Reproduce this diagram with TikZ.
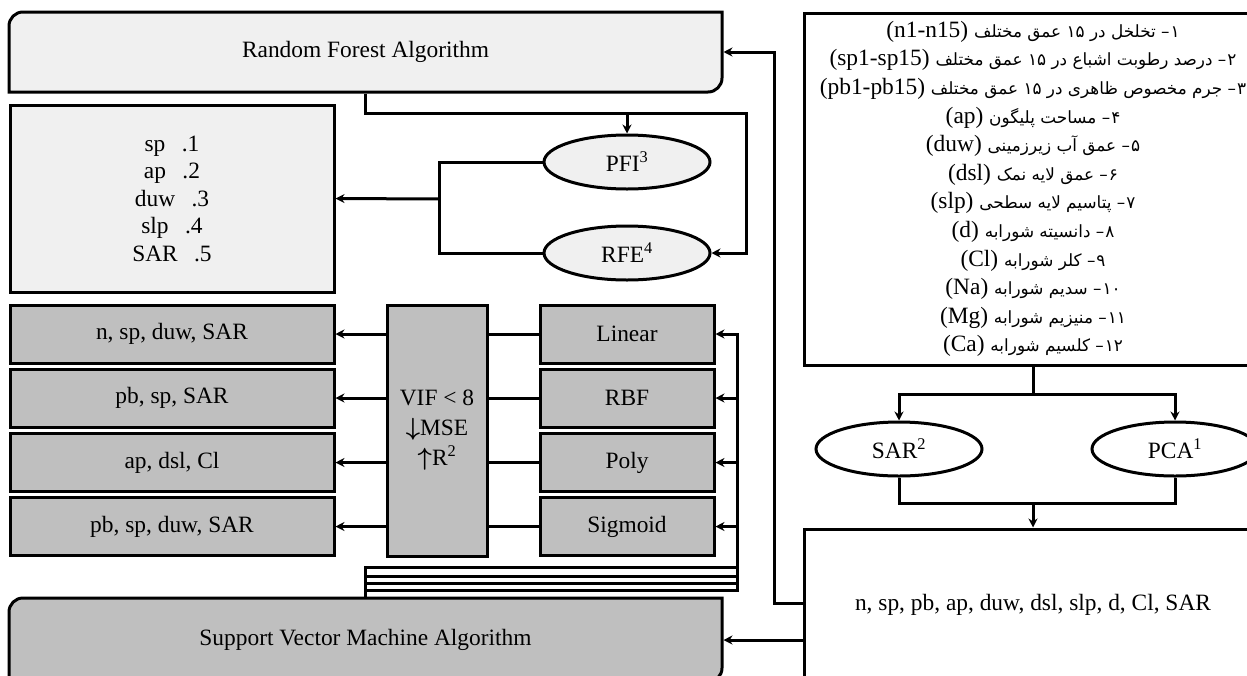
\documentclass[tikz,border=0pt]{standalone}
\usepackage{fontspec}
\setmainfont{Liberation Serif}
\newfontfamily\fafont[Script=Arabic,Scale=0.72]{DejaVu Sans}
\TeXXeTstate=1
\usetikzlibrary{arrows.meta,shapes.geometric}

\definecolor{paleGray}{HTML}{F0F0F0}
\definecolor{midGray}{HTML}{BFBFBF}

\begin{document}
\begin{tikzpicture}[x=1pt,y=-1pt,
    every node/.style={font=\fontsize{23.4}{27.5}\selectfont, inner sep=0pt},
    box/.style={draw, line width=3pt, rectangle},
    oval/.style={draw, line width=3pt, ellipse, minimum width=166pt, minimum height=54pt},
    algo/.style={minimum width=713pt, minimum height=80pt, outer sep=1.5pt},
    link/.style={line width=3pt},
    arr/.style={link, -{Stealth[length=9pt,width=9pt]}},
  ]
  \useasboundingbox (0,0) rectangle (1247,675);
  \clip (0,0) rectangle (1247,675);

  % Algorithm frames (rounded top left and bottom right)
  \draw[line width=3pt, fill=paleGray] (9,52) [rounded corners=14pt] -- (9,12) [sharp corners] -- (722,12)
    [rounded corners=14pt] -- (722,92) [sharp corners] -- (9,92) -- cycle;
  \draw[line width=3pt, fill=midGray] (9,640) [rounded corners=14pt] -- (9,598) [sharp corners] -- (722,598)
    [rounded corners=14pt] -- (722,682) [sharp corners] -- (9,682) -- cycle;
  \node[algo] (rf)  at (365.5,52)  {Random Forest Algorithm};
  \node[algo] (svm) at (365.5,640) {Support Vector Machine Algorithm};

  % Random forest selection
  \node[box, fill=paleGray, minimum width=324pt, minimum height=187pt, align=center] (top5) at (172,198.5)
    {sp\hspace{.7em}.1\\ap\hspace{.7em}.2\\duw\hspace{.7em}.3\\slp\hspace{.7em}.4\\SAR\hspace{.7em}.5};
  \node[oval, fill=paleGray] (pfi) at (627,162) {PFI\textsuperscript{3}};
  \node[oval, fill=paleGray] (rfe) at (627,253) {RFE\textsuperscript{4}};

  % SVM kernels and resulting inputs
  \node[box, fill=midGray, minimum width=324pt, minimum height=58pt] (res1) at (172,334)   {n, sp, duw, SAR};
  \node[box, fill=midGray, minimum width=324pt, minimum height=58pt] (res2) at (172,398)   {pb, sp, SAR};
  \node[box, fill=midGray, minimum width=324pt, minimum height=58pt] (res3) at (172,462.5) {ap, dsl, Cl};
  \node[box, fill=midGray, minimum width=324pt, minimum height=58pt] (res4) at (172,526.5) {pb, sp, duw, SAR};
  \node[box, fill=midGray, minimum width=100pt, minimum height=251pt, align=center] (vif) at (437,430.5)
    {VIF < 8\\[2.5pt]{\boldmath$\downarrow$}MSE\\[2.5pt]{\boldmath$\uparrow$}R\textsuperscript{2}};
  \node[box, fill=midGray, minimum width=174pt, minimum height=58pt] (ker1) at (627,334)   {Linear};
  \node[box, fill=midGray, minimum width=174pt, minimum height=58pt] (ker2) at (627,398)   {RBF};
  \node[box, fill=midGray, minimum width=174pt, minimum height=58pt] (ker3) at (627,462.5) {Poly};
  \node[box, fill=midGray, minimum width=174pt, minimum height=58pt] (ker4) at (627,526.5) {Sigmoid};

  % Input variables and preprocessing
  \node[box, fill=white, minimum width=458pt, minimum height=352pt, align=center,
        font=\fontsize{23.4}{28.6}\selectfont] (feat) at (1033,189) {%
    \beginR{\fafont ۱\kern1pt– تخلخل در ۱۵ عمق مختلف} \beginL(n1-n15)\endL\endR\\
    \beginR{\fafont ۲\kern1pt– درصد رطوبت اشباع در ۱۵ عمق مختلف} \beginL(sp1-sp15)\endL\endR\\
    \beginR{\fafont ۳\kern1pt– جرم مخصوص ظاهری در ۱۵ عمق مختلف} \beginL(pb1-pb15)\endL\endR\\
    \beginR{\fafont ۴\kern1pt– مساحت پلیگون} \beginL(ap)\endL\endR\\
    \beginR{\fafont ۵\kern1pt– عمق آب زیرزمینی} \beginL(duw)\endL\endR\\
    \beginR{\fafont ۶\kern1pt– عمق لایه نمک} \beginL(dsl)\endL\endR\\
    \beginR{\fafont ۷\kern1pt– پتاسیم لایه سطحی} \beginL(slp)\endL\endR\\
    \beginR{\fafont ۸\kern1pt– دانسیته شورابه} \beginL(d)\endL\endR\\
    \beginR{\fafont ۹\kern1pt– کلر شورابه} \beginL(Cl)\endL\endR\\
    \beginR{\fafont ۱۰\kern1pt– سدیم شورابه} \beginL(Na)\endL\endR\\
    \beginR{\fafont ۱۱\kern1pt– منیزیم شورابه} \beginL(Mg)\endL\endR\\
    \beginR{\fafont ۱۲\kern1pt– کلسیم شورابه} \beginL(Ca)\endL\endR};
  \node[oval, fill=white] (sar) at (899,449)  {SAR\textsuperscript{2}};
  \node[oval, fill=white] (pca) at (1175,449) {PCA\textsuperscript{1}};
  \node[box, fill=white, minimum width=458pt, minimum height=152pt] (input) at (1033,605)
    {n, sp, pb, ap, duw, dsl, slp, d, Cl, SAR};

  % Turning points
  \coordinate (fsplit) at (1033,394);
  \coordinate (fmerge) at (1033,503);
  \coordinate (rfback) at (774,603);
  \coordinate (rfsplit) at (746,113);
  \coordinate (fijoin) at (439,199);
  \coordinate (bus1) at (737,590);
  \coordinate (bus2) at (737,583);
  \coordinate (bus3) at (737,576);
  \coordinate (bus4) at (737,567);

  % Right column
  \draw[link] (feat.south) -- (fsplit);
  \draw[arr] (fsplit) -| (sar.north);
  \draw[arr] (fsplit) -| (pca.north);
  \draw[link] (sar.south) |- (fmerge) -| (pca.south);
  \draw[arr] (fmerge) -- (input.north);
  \draw[arr] (input.west |- rfback) -- (rfback) |- (rf.east);
  \draw[arr] (input.west |- svm.east) -- (svm.east);

  % Random forest links
  \draw[arr] (rf.south) |- (rfsplit) |- (rfe.east);
  \draw[arr] (pfi.north |- rfsplit) -- (pfi.north);
  \draw[link] (pfi.west) -| (fijoin) |- (rfe.west);
  \draw[arr] (fijoin) -- (top5.east);

  % SVM links
  \draw[arr] (svm.north) |- (bus1) |- (ker1.east);
  \draw[arr] (svm.north) |- (bus2) |- (ker2.east);
  \draw[arr] (svm.north) |- (bus3) |- (ker3.east);
  \draw[arr] (svm.north) |- (bus4) |- (ker4.east);
  \draw[link] (ker1.west) -- (ker1.west -| vif.east);
  \draw[link] (ker2.west) -- (ker2.west -| vif.east);
  \draw[link] (ker3.west) -- (ker3.west -| vif.east);
  \draw[link] (ker4.west) -- (ker4.west -| vif.east);
  \draw[arr] (vif.west |- res1) -- (res1.east);
  \draw[arr] (vif.west |- res2) -- (res2.east);
  \draw[arr] (vif.west |- res3) -- (res3.east);
  \draw[arr] (vif.west |- res4) -- (res4.east);
\end{tikzpicture}
\end{document}
